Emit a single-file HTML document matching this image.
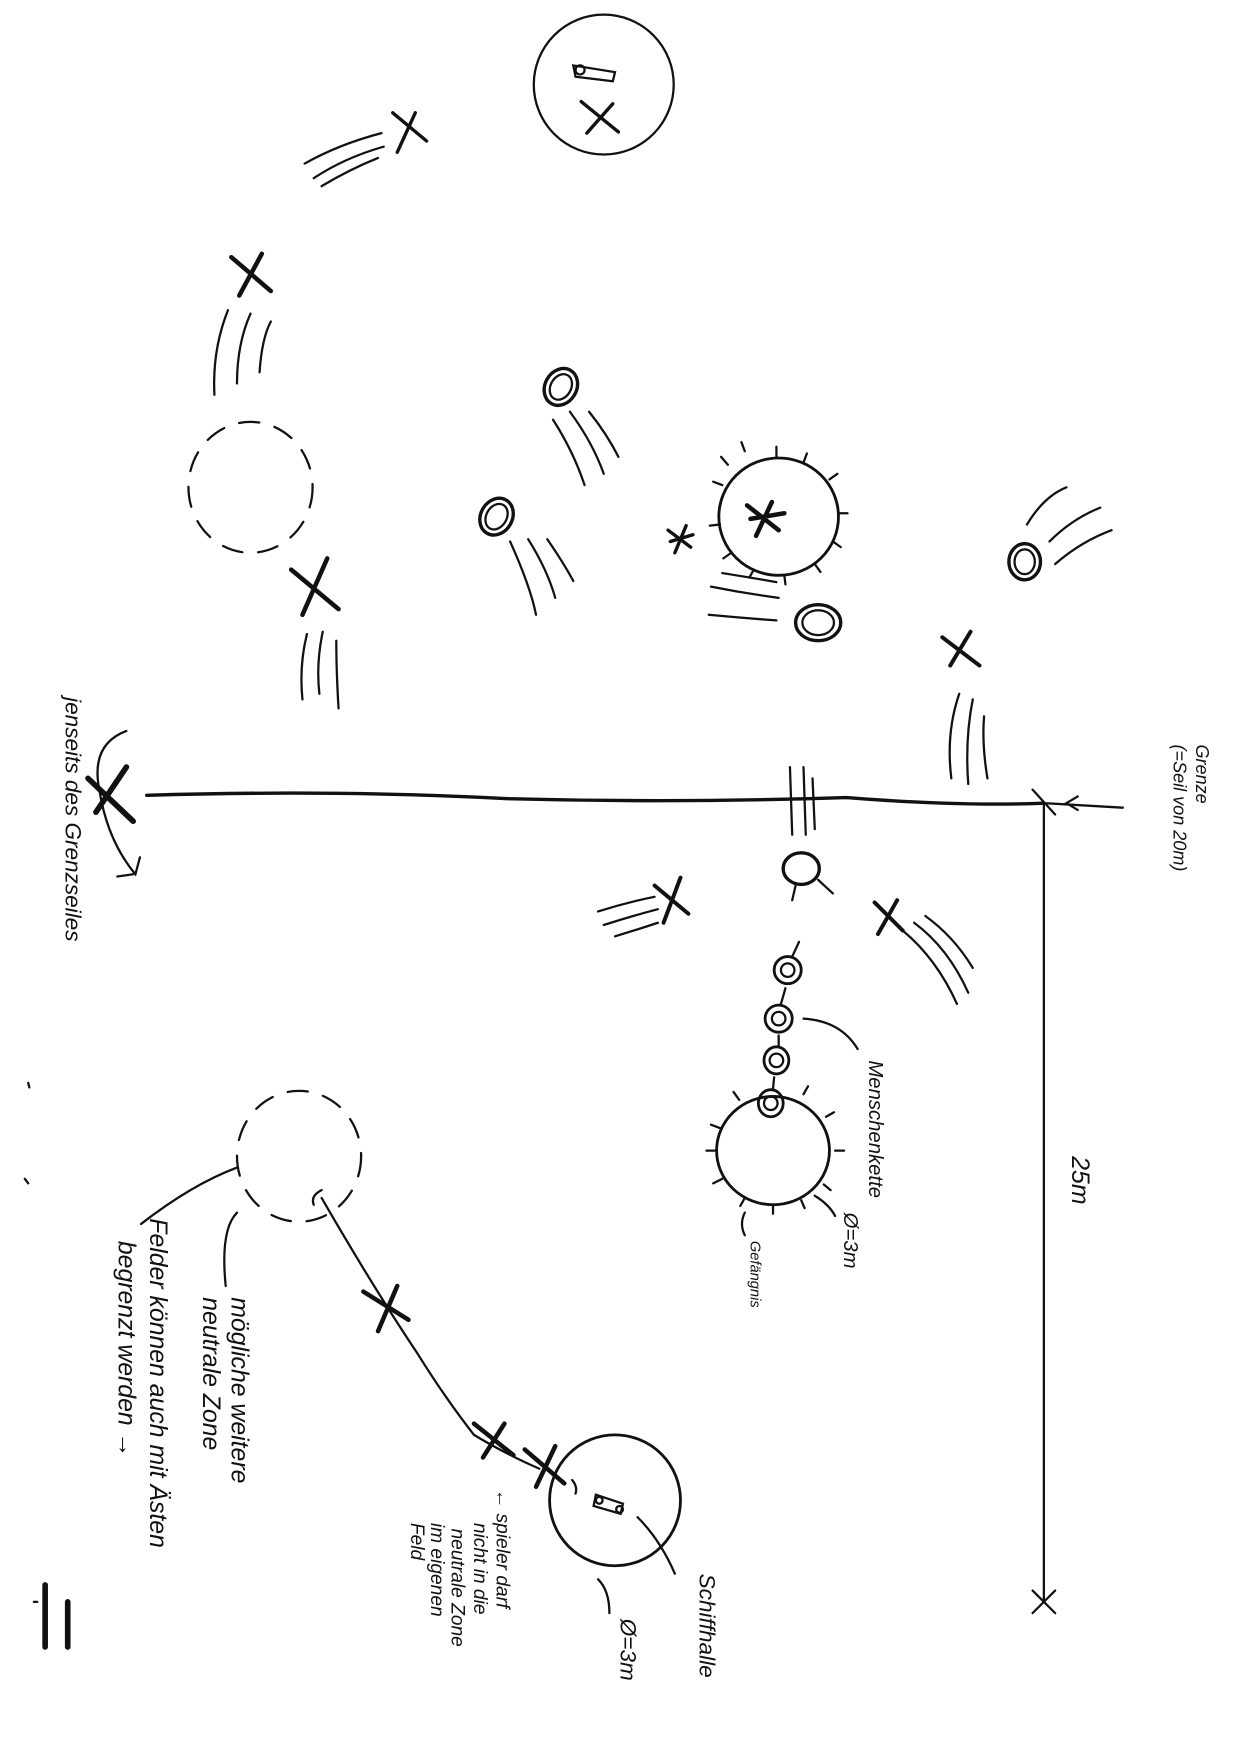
<!DOCTYPE html>
<html><head><meta charset="utf-8"><style>
html,body{margin:0;padding:0;background:#fff;}
svg{display:block;}
text{font-family:"Liberation Sans",sans-serif;font-style:italic;fill:#111;}
</style></head><body>
<svg width="1247" height="1753" viewBox="0 0 1105 1554" preserveAspectRatio="none" xmlns="http://www.w3.org/2000/svg">
<g fill="none" stroke="#111" stroke-width="2" stroke-linecap="round">
<!-- top circle -->
<circle cx="535" cy="75" r="62"/>
<path d="M508 58 L545 64 L543 72 L510 68 Z"/><circle cx="514" cy="62" r="4"/>
<path d="M515 90 L548 117 M543 92 L520 118" stroke-width="3"/>
<!-- X with lines -->
<path d="M348 100 L378 125 M368 100 L352 135" stroke-width="3"/>
<path d="M270 145 Q300 128 338 118 M278 158 Q305 140 340 130 M285 165 Q310 150 335 140"/>
<path d="M205 228 L240 258 M232 225 L212 262" stroke-width="4"/>
<path d="M190 350 Q188 310 202 275 M210 340 Q210 305 222 278 M230 330 Q232 300 240 285"/>
<!-- dashed circle -->
<ellipse cx="222" cy="432" rx="55" ry="58" stroke-dasharray="18 14"/>
<path d="M258 505 L300 540 M290 495 L268 545" stroke-width="4"/>
<path d="M268 620 Q265 590 272 562 M283 615 Q280 588 286 560 M300 628 Q298 595 298 568"/>
<!-- ovals -->
<ellipse cx="497" cy="343" rx="14" ry="17" transform="rotate(30 497 343)" stroke-width="3"/>
<ellipse cx="497" cy="343" rx="9" ry="12" transform="rotate(30 497 343)"/>
<path d="M490 372 Q508 400 518 430 M505 365 Q525 392 535 420 M522 365 Q538 385 548 405"/>
<ellipse cx="440" cy="458" rx="14" ry="17" transform="rotate(30 440 458)" stroke-width="3"/>
<ellipse cx="440" cy="458" rx="9" ry="12" transform="rotate(30 440 458)"/>
<path d="M452 480 Q470 520 475 545 M468 478 Q485 505 492 530 M485 478 Q500 500 508 515"/>
<!-- circle with ticks -->
<ellipse cx="690" cy="458" rx="53" ry="52" stroke-width="2.5"/>
<path d="M640 430 l-8 -3 M645 412 l-6 -7 M660 400 l-3 -8 M688 405 l0 -9 M712 410 l3 -8 M735 425 l7 -5 M743 455 l8 0 M738 480 l7 5 M722 500 l5 7 M695 510 l1 8 M668 505 l-4 7 M648 490 l-7 5 M638 465 l-9 1"/>
<path d="M662 448 L690 470 M684 445 L670 475 M665 460 L695 455" stroke-width="4"/>
<path d="M592 470 L612 485 M608 466 L598 490 M594 480 L614 474" stroke-width="3"/>
<path d="M630 520 Q660 526 690 530 M628 545 Q660 548 688 550 M640 508 Q665 512 688 516"/>
<ellipse cx="725" cy="552" rx="20" ry="16" stroke-width="3"/>
<ellipse cx="725" cy="552" rx="14" ry="11"/>
<ellipse cx="908" cy="498" rx="14" ry="16" stroke-width="3"/>
<ellipse cx="908" cy="498" rx="9" ry="11"/>
<path d="M910 465 Q925 440 945 432 M930 480 Q950 460 975 450 M935 500 Q958 480 985 470"/>
<!-- X near boundary -->
<path d="M835 565 L868 590 M860 560 L842 590" stroke-width="3.5"/>
<path d="M843 690 Q838 650 850 615 M858 695 Q855 655 862 620 M875 690 Q870 660 872 635"/>
<!-- boundary line -->
<path d="M130 705 Q300 700 450 708 Q600 712 750 707 Q850 715 925 712" stroke-width="3"/>
<path d="M78 690 L118 728 M112 680 L85 720" stroke-width="5"/>
<path d="M112 648 Q80 660 88 700 Q95 745 120 775 L124 760 M118 775 L104 777"/>
<path d="M925 712 L925 1420 M915 1410 L935 1430 M935 1410 L915 1430 M915 700 L935 722 M925 712 L995 716 M955 706 L945 712 L955 718"/>
<!-- lines + oval under boundary -->
<path d="M700 680 L702 740 M712 680 L714 740 M720 690 L722 735"/>
<ellipse cx="710" cy="770" rx="16" ry="14" stroke-width="3"/>
<path d="M705 785 L702 798 M725 780 L738 792"/>
<path d="M580 785 L610 810 M603 778 L588 818" stroke-width="3.5"/>
<path d="M530 808 Q555 800 580 795 M535 820 Q560 812 583 806 M545 830 Q565 824 583 818"/>
<path d="M775 800 L800 825 M795 798 L778 828" stroke-width="3.5"/>
<path d="M800 825 Q830 850 848 890 M810 818 Q840 840 858 880 M820 812 Q845 830 862 858"/>
<!-- chain -->
<path d="M708 835 L702 848 M696 876 L692 890 M690 918 L690 928 M686 955 L685 965"/>
<ellipse cx="698" cy="860" rx="12" ry="12" stroke-width="2.5"/><ellipse cx="698" cy="860" rx="6" ry="6"/>
<ellipse cx="690" cy="903" rx="12" ry="12" stroke-width="2.5"/><ellipse cx="690" cy="903" rx="6" ry="6"/>
<ellipse cx="688" cy="940" rx="11" ry="12" stroke-width="2.5"/><ellipse cx="688" cy="940" rx="6" ry="6"/>
<ellipse cx="683" cy="978" rx="11" ry="12" stroke-width="2.5"/><ellipse cx="683" cy="978" rx="6" ry="6"/>
<ellipse cx="685" cy="1020" rx="50" ry="48" stroke-width="2.5"/>
<path d="M638 1000 l-8 -3 M655 975 l-5 -7 M712 970 l4 -7 M732 990 l7 -4 M740 1020 l8 0 M730 1050 l6 5 M710 1064 l3 7 M685 1068 l0 8 M660 1062 l-4 7 M640 1045 l-8 4 M634 1020 l-8 0"/>
<path d="M712 903 Q745 905 760 930 M722 1060 Q735 1068 740 1078 M660 1075 Q655 1085 660 1095"/>
<!-- bottom dashed circle + path -->
<ellipse cx="265" cy="1025" rx="55" ry="58" stroke-dasharray="18 14"/>
<path d="M285 1055 Q275 1060 278 1068 M285 1062 Q330 1140 370 1200 Q395 1240 420 1272 Q450 1290 478 1302"/>
<path d="M322 1145 L362 1170 M352 1140 L335 1180" stroke-width="4"/>
<path d="M420 1262 L455 1290 M447 1262 L428 1292" stroke-width="4"/>
<path d="M465 1285 L500 1315 M492 1282 L475 1318" stroke-width="4"/>
<circle cx="545" cy="1330" r="58" stroke-width="2.5"/>
<path d="M528 1325 L552 1333 L550 1342 L526 1335 Z"/><circle cx="531" cy="1330" r="3"/><circle cx="549" cy="1338" r="3"/>
<path d="M507 1312 Q512 1318 510 1324 M565 1345 Q585 1365 598 1395 M530 1400 Q540 1410 540 1430"/>
<path d="M210 1035 Q170 1050 125 1085 M210 1075 Q195 1090 200 1140"/>
<path d="M40 1405 L40 1460 M60 1420 L60 1460" stroke-width="5"/>
<path d="M30 1420 l3 0 M22 1045 l3 4 M25 960 l1 4"/>
</g>
<g font-size="20">
<text transform="translate(58,618) rotate(90)">jenseits des Grenzseiles</text>
<text transform="translate(1060,660) rotate(90)" font-size="16">Grenze</text>
<text transform="translate(1040,660) rotate(90)" font-size="16">(=Seil von 20m)</text>
<text transform="translate(950,1025) rotate(90)" font-size="22">25m</text>
<text transform="translate(770,940) rotate(90)" font-size="18">Menschenkette</text>
<text transform="translate(748,1075) rotate(90)" font-size="18">Ø=3m</text>
<text transform="translate(665,1100) rotate(90)" font-size="13">Gefängnis</text>
<text transform="translate(620,1395) rotate(90)" font-size="20">Schiffhalle</text>
<text transform="translate(550,1435) rotate(90)" font-size="20">Ø=3m</text>
<text transform="translate(440,1320) rotate(90)" font-size="17">← spieler darf</text>
<text transform="translate(420,1350) rotate(90)" font-size="17">nicht in die</text>
<text transform="translate(400,1355) rotate(90)" font-size="17">neutrale Zone</text>
<text transform="translate(382,1350) rotate(90)" font-size="17">im eigenen</text>
<text transform="translate(364,1350) rotate(90)" font-size="17">Feld</text>
<text transform="translate(205,1150) rotate(90)" font-size="22">mögliche weitere</text>
<text transform="translate(180,1150) rotate(90)" font-size="22">neutrale Zone</text>
<text transform="translate(133,1080) rotate(90)" font-size="22">Felder können auch mit Ästen</text>
<text transform="translate(105,1100) rotate(90)" font-size="22">begrenzt werden →</text>
</g>
</svg>
</body></html>
